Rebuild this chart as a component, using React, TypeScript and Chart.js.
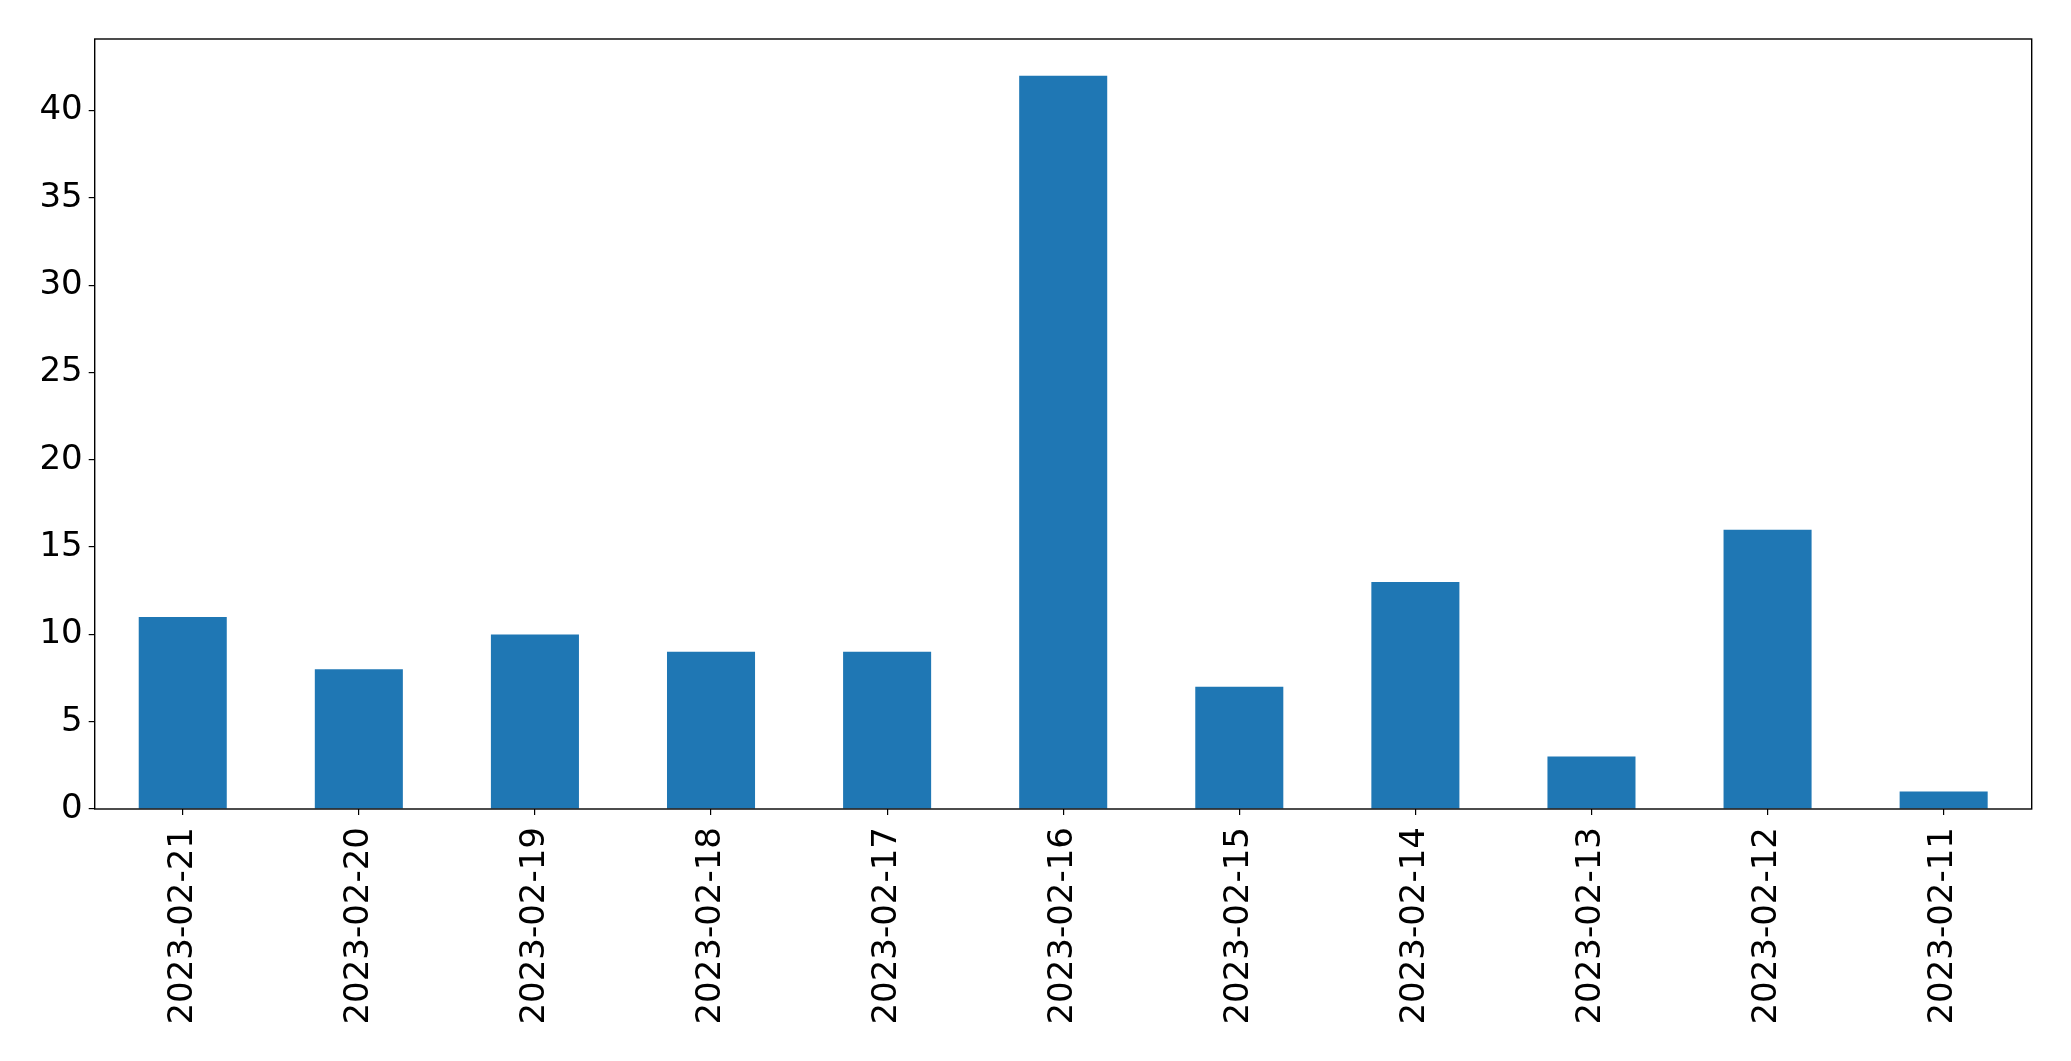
import React, { useEffect, useRef } from "react";
import { Chart, registerables } from "chart.js";

Chart.register(...registerables);

const categories = [
  "2023-02-21", "2023-02-20", "2023-02-19", "2023-02-18", "2023-02-17", "2023-02-16",
  "2023-02-15", "2023-02-14", "2023-02-13", "2023-02-12", "2023-02-11",
];
const counts = [11, 8, 10, 9, 9, 42, 7, 13, 3, 16, 1];
const yTicks = [0, 5, 10, 15, 20, 25, 30, 35, 40];
const yMax = 44.1;

const W = 2071;
const H = 1061;
const LEFT = 94.7;
const RIGHT = 2031.7;
const TOP = 39;
const BOTTOM = 809;
const FONT = "'DejaVu Sans', sans-serif";

const framePlugin = {
  id: "frame",
  afterDatasetsDraw(chart: any) {
    const { ctx, chartArea } = chart;
    ctx.save();
    ctx.strokeStyle = "#000";
    ctx.lineWidth = 1.4;
    ctx.strokeRect(chartArea.left, chartArea.top, chartArea.right - chartArea.left, chartArea.bottom - chartArea.top);
    ctx.restore();
  },
};

export default function App() {
  const ref = useRef<HTMLCanvasElement | null>(null);
  useEffect(() => {
    document.body.style.margin = "0";
    document.body.style.overflow = "hidden";
    if (!ref.current) return;
    const chart = new Chart(ref.current, {
      type: "bar",
      data: {
        labels: categories,
        datasets: [
          {
            data: counts,
            backgroundColor: "#1f77b4",
            borderWidth: 0,
            categoryPercentage: 1,
            barPercentage: 0.5,
          },
        ],
      },
      options: {
        animation: false,
        responsive: false,
        devicePixelRatio: 1,
        layout: { padding: { top: TOP, right: W - RIGHT, left: 0, bottom: 0 } },
        plugins: { legend: { display: false }, tooltip: { enabled: false } },
        scales: {
          x: {
            offset: true,
            grid: { display: true, drawOnChartArea: false, drawTicks: true, tickLength: 6, color: "#000", lineWidth: 1.2, offset: false },
            border: { display: false },
            ticks: {
              color: "#000",
              font: { family: FONT, size: 34 },
              minRotation: 90,
              maxRotation: 90,
              autoSkip: false,
              padding: 12,
            },
            afterFit(scale: any) {
              scale.height = H - BOTTOM;
            },
          },
          y: {
            min: 0,
            max: yMax,
            grid: { display: true, drawOnChartArea: false, drawTicks: true, tickLength: 6, color: "#000", lineWidth: 1.2 },
            border: { display: false },
            ticks: {
              color: "#000",
              font: { family: FONT, size: 34 },
              padding: 6,
            },
            afterBuildTicks(scale: any) {
              scale.ticks = yTicks.map((v) => ({ value: v }));
            },
            afterFit(scale: any) {
              scale.width = LEFT;
            },
          },
        },
      },
      plugins: [framePlugin],
    });
    return () => chart.destroy();
  }, []);
  return (
    <div style={{ position: "absolute", left: 0, top: 0, width: W, height: H, background: "#fff" }}>
      <canvas ref={ref} width={W} height={H} style={{ display: "block" }} />
    </div>
  );
}
